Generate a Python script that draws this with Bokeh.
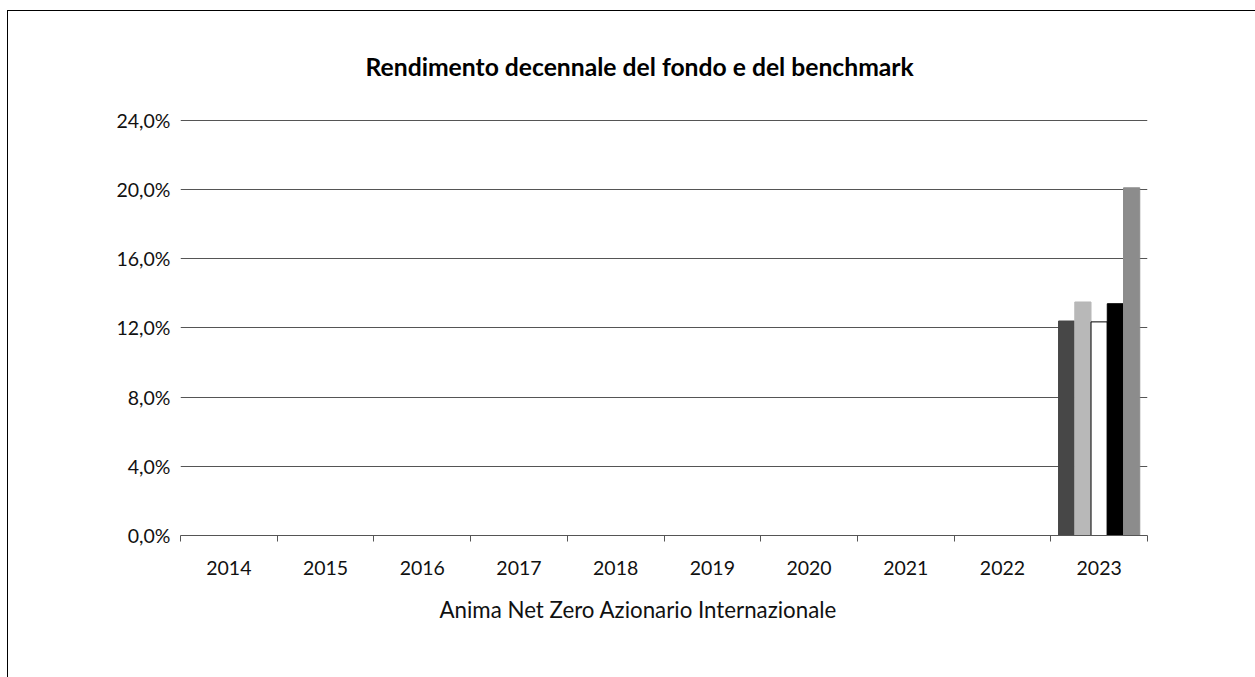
from bokeh.plotting import figure
from bokeh.models import (ColumnDataSource, Range1d, FixedTicker,
                          LinearAxis, Legend, LegendItem, Title)
from bokeh.transform import dodge
from bokeh.embed import file_html
from bokeh.resources import INLINE

years = ["2014", "2015", "2016", "2017", "2018", "2019", "2020", "2021", "2022", "2023"]
classe_a = [None] * 9 + [12.4]
classe_f = [None] * 9 + [13.5]
classe_ad = [None] * 9 + [12.35]
classe_y = [None] * 9 + [13.4]
benchmark = [None] * 9 + [20.1]
y_ticks = [0, 4, 8, 12, 16, 20, 24]
series_names = ["Classe A", "Classe F", "Classe AD", "Classe Y", "Benchmark"]
fund_name = "Anima Net Zero Azionario Internazionale"
title_text = "Rendimento decennale del fondo e del benchmark"

nan = float("nan")
def clean(v):
    return [nan if x is None else x for x in v]

n = len(years)
centers = [i + 0.5 for i in range(n)]
src = ColumnDataSource(dict(
    pos=centers,
    a=clean(classe_a), f=clean(classe_f), ad=clean(classe_ad),
    y=clean(classe_y), b=clean(benchmark),
))

FONT = "Lato"
p = figure(frame_width=967, frame_height=416, x_range=Range1d(0, n),
           y_range=Range1d(0, 24.05), output_backend="svg", toolbar_location=None,
           x_axis_location=None, min_border_left=172, min_border_right=108,
           min_border_top=107, min_border_bottom=10)
p.styles = {"border-top": "1px solid black", "border-left": "1px solid black",
            "margin-top": "10px", "margin-left": "7px"}
p.outline_line_color = None
p.xgrid.grid_line_color = None
p.ygrid.grid_line_color = "#555555"
p.ygrid.grid_line_width = 1
p.ygrid.ticker = FixedTicker(ticks=y_ticks)

p.title.text = title_text
p.title.align = "left"
p.title.offset = 185
p.title.text_font = FONT
p.title.text_font_size = "24.7px"
p.title.text_font_style = "bold"
p.title.text_color = "#000000"
p.title.standoff = 77

yax = p.yaxis[0]
yax.ticker = FixedTicker(ticks=y_ticks)
yax.major_label_overrides = {t: f"{t:.1f}".replace(".", ",") + "%" for t in y_ticks}
yax.axis_line_color = None
yax.major_tick_line_color = None
yax.minor_tick_line_color = None
yax.major_label_text_font = FONT
yax.major_label_text_font_size = "19.5px"
yax.major_label_text_color = "#111111"
yax.major_label_standoff = 4

# boundary tick axis
bounds = list(range(n + 1))
tick_axis = LinearAxis(ticker=FixedTicker(ticks=bounds),
                       axis_line_color="#555555", major_tick_line_color="#555555",
                       major_tick_in=0, major_tick_out=6, minor_tick_line_color=None,
                       major_label_overrides={b: "" for b in bounds},
                       major_label_standoff=0, major_label_text_font_size="1px")
p.add_layout(tick_axis, "below")

cat_axis = LinearAxis(ticker=FixedTicker(ticks=centers),
                      major_label_overrides={c: y for c, y in zip(centers, years)},
                      axis_line_color=None, major_tick_line_color=None, minor_tick_line_color=None,
                      major_label_text_font=FONT, major_label_text_font_size="19.5px",
                      major_label_text_color="#111111", major_label_standoff=13)
p.add_layout(cat_axis, "below")

width = 0.168
cols = ["a", "f", "ad", "y", "b"]
fills = ["#474747", "#b8b8b8", "#ffffff", "#000000", "#8c8c8c"]
lines = ["#474747", "#b8b8b8", "#000000", "#000000", "#8c8c8c"]
offsets = [-2 * width, -width, 0, width, 2 * width]
items = []
for col, fc, lc, off, name in zip(cols, fills, lines, offsets, series_names):
    r = p.vbar(x=dodge("pos", off), top=col, bottom=0, width=width,
               source=src, fill_color=fc, line_color=lc, line_width=1)
    items.append(LegendItem(label=name, renderers=[r]))

p.add_layout(Title(text=fund_name, align="left", offset=259, standoff=32, text_font=FONT,
                   text_font_size="22.3px", text_font_style="normal", text_color="#111111"), "below")

legend = Legend(items=items, orientation="horizontal", location=(150, 0),
                label_text_font=FONT, label_text_font_size="22px", label_text_color="#111111",
                glyph_width=18, glyph_height=18, label_standoff=6, spacing=11,
                padding=0, margin=0, border_line_color=None, background_fill_alpha=0)
p.add_layout(legend, "below")

open("out.html", "w").write(file_html(p, INLINE))
